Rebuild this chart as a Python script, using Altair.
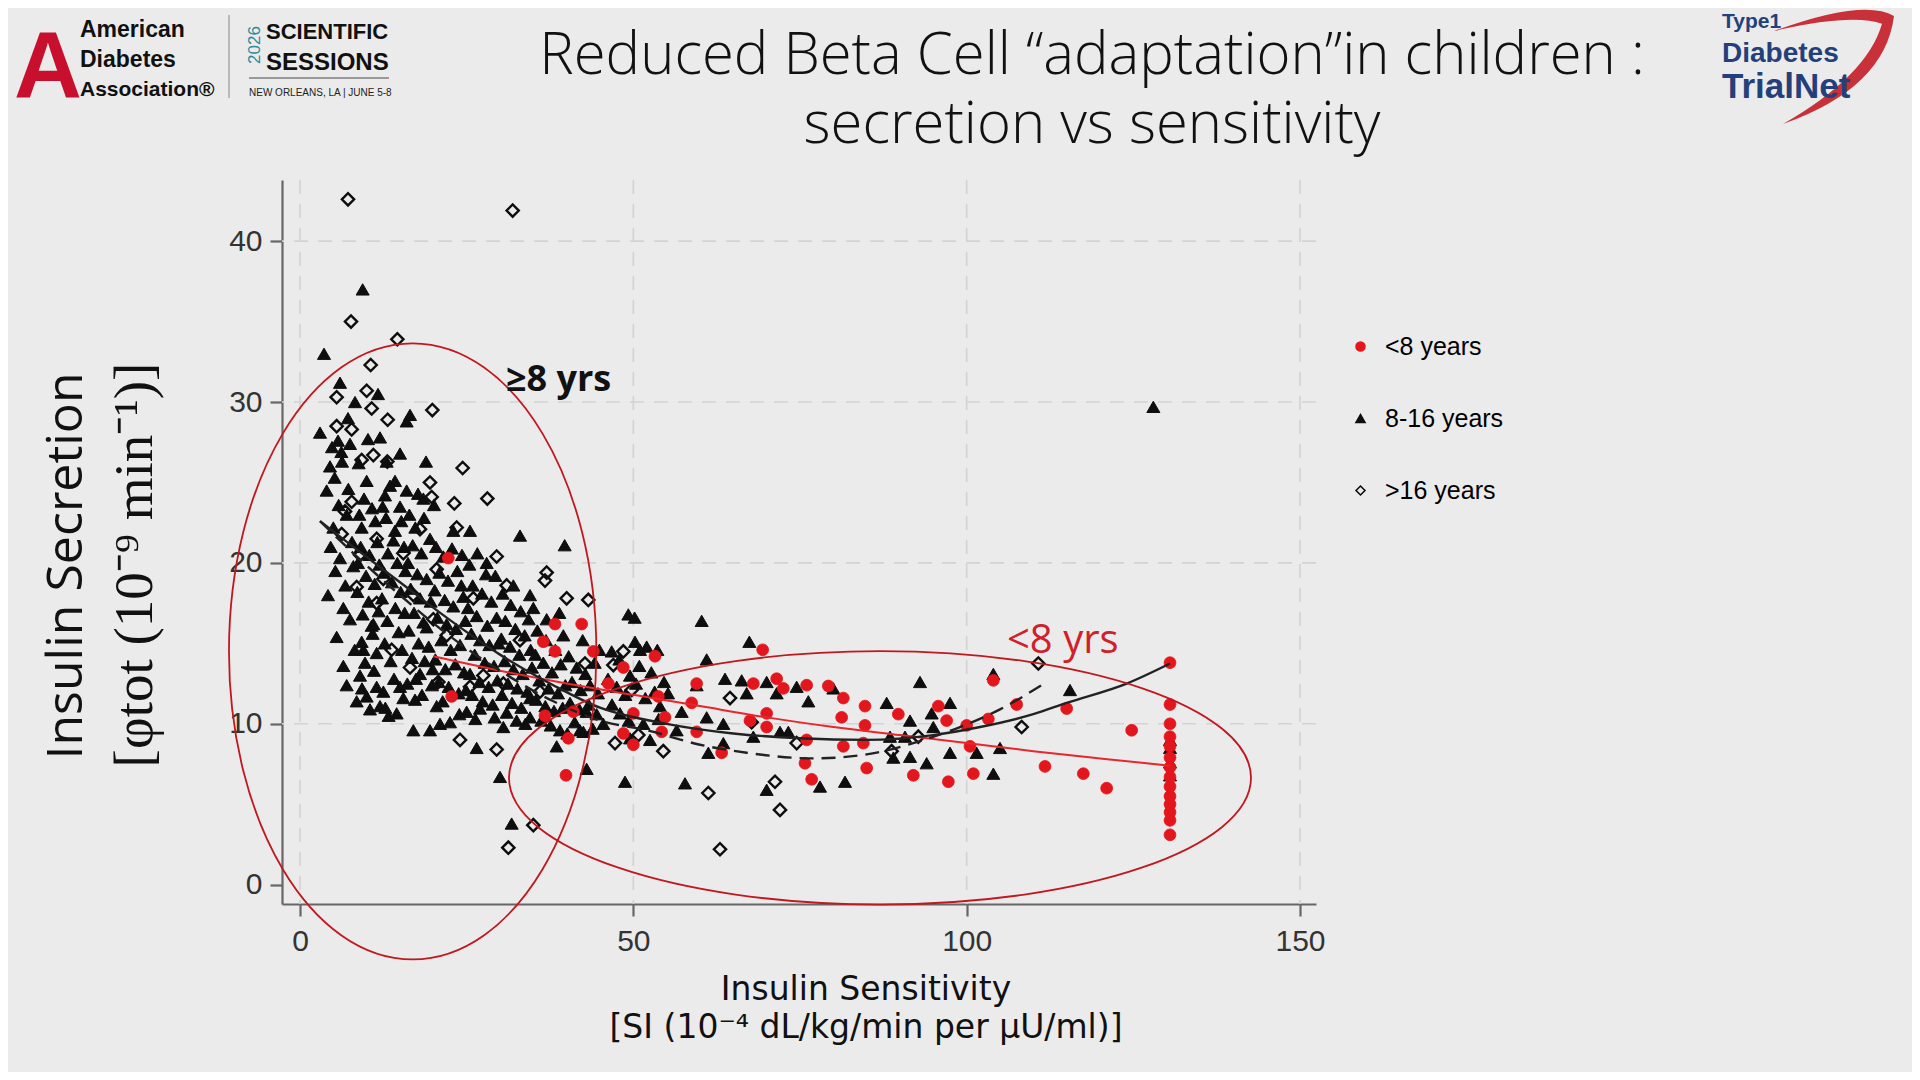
import altair as alt
import pandas as pd

# ---------------- data ----------------
groups = ["<8 years", "8-16 years", ">16 years"]

tri_pts = [  # 8-16 years
    (9.4,37.0),(3.6,33.0),(6.0,31.2),(11.7,30.5),(8.25,30.0),(7.2,29.0),(3.0,28.1),(16.5,29.2),(16.0,28.8),
    (5.7,27.6),(7.5,27.4),(10.2,27.7),(12.0,27.8),(15.0,26.8),(18.9,26.3),(14.25,25.1),(10.0,25.1),(7.25,24.6),
    (12.75,24.2),(16.0,24.5),(18.5,24.0),(15.0,23.5),(33.0,21.7),(39.7,21.1),(5.0,22.2),(9.25,22.2),(14.25,22.0),
    (23.0,22.0),(25.5,22.0),(6.5,17.2),(34.5,18.0),(49.25,16.8),(50.2,16.6),(60.25,16.4),(6.5,13.6),(9.5,14.6),
    (11.0,16.2),(19.0,16.0),(61.0,14.0),(10.75,16.1),(9.25,15.1),(9.75,13.8),(18.0,13.1),(10.0,11.7),(12.0,11.1),
    (14.5,10.65),(11.5,12.3),(15.0,12.3),(17.25,11.5),(17.0,9.6),(19.5,9.6),(21.0,10.0),(20.5,11.1),(25.0,10.75),
    (27.0,10.95),(26.5,8.5),(30.0,6.7),(31.75,3.8),(30.5,9.8),(32.5,10.2),(34.5,10.4),(38.5,8.6),(42.0,9.6),(43.0,7.2),
    (67.4,15.1),(50.25,15.1),(46.75,14.5),(51.0,14.6),(49.5,13.0),(63.75,12.8),(66.25,12.7),(59.5,12.4),(70.0,12.6),
    (74.5,12.3),(80.0,12.2),(93.0,12.6),(67.0,11.9),(71.5,11.9),(76.25,11.4),(88.0,11.3),(97.5,11.3),(94.75,10.65),
    (91.5,10.2),(54.0,11.1),(57.25,10.75),(61.0,10.4),(63.5,10.0),(56.5,9.6),(43.0,10.75),(48.0,10.65),(45.5,10.0),
    (42.5,9.5),(72.0,9.5),(73.25,9.5),(68.0,9.2),(49.5,9.1),(52.5,9.0),(88.5,9.2),(90.75,9.2),(95.0,9.8),(63.5,8.8),
    (61.25,8.2),(89.0,7.9),(91.5,7.95),(94.0,7.55),(97.5,8.2),(101.5,8.2),(48.75,6.4),(57.75,6.3),(70.0,5.9),
    (78.0,6.1),(81.75,6.4),(104.0,13.1),(115.5,12.1),(105.0,8.5),(104.0,6.9),(130.5,9.0),(130.5,8.5),(130.5,7.6),
    (130.5,6.8),(128.0,29.7),
    (4.5,26.0),(5.2,25.3),(4.0,24.5),(6.3,26.3),(5.8,23.6),(7.0,23.0),(4.6,21.0),(6.0,20.3),(7.8,21.3),(5.3,19.5),
    (6.8,18.6),(8.0,19.8),(4.2,18.0),(7.5,16.5),(5.5,15.4),(8.2,14.6),(7.0,12.4),(8.5,11.4),(6.2,26.9),(4.8,27.2),
    (8.8,26.2),(9.6,24.0),(10.8,23.4),(8.9,23.0),(11.3,22.6),(9.1,21.0),(10.4,20.5),(11.6,21.3),(8.7,20.0),(9.9,19.2),
    (11.2,18.7),(8.6,18.2),(10.3,17.6),(11.8,17.0),(9.4,16.8),(10.9,15.6),(11.5,14.4),(9.0,13.0),(11.1,13.3),
    (10.5,10.9),(9.3,12.2),(11.9,19.9),
    (12.4,23.5),(13.5,24.8),(12.9,22.8),(14.0,21.4),(15.2,22.6),(13.2,20.6),(14.6,20.0),(15.6,21.0),(12.6,19.4),
    (13.8,18.8),(15.1,18.2),(12.3,17.8),(14.3,17.2),(15.7,16.9),(13.1,16.4),(14.8,15.7),(12.7,15.0),(15.3,14.6),
    (13.6,13.9),(14.1,12.8),(12.5,12.0),(15.5,11.6),(13.3,10.5),(12.8,11.0),(15.8,19.5),(13.0,26.3),
    (16.4,23.0),(17.3,22.2),(18.6,22.8),(16.9,21.1),(18.2,20.6),(19.5,21.5),(16.2,20.0),(17.6,19.3),(19.0,19.0),
    (16.6,18.4),(18.0,17.8),(19.6,17.6),(17.1,16.9),(18.5,16.3),(16.3,15.8),(17.8,15.0),(19.3,14.8),(16.8,14.1),
    (18.7,13.9),(17.4,12.8),(19.8,12.4),(16.1,12.5),(18.3,11.8),(19.9,13.4),(17.7,24.3),
    (20.4,21.0),(21.5,20.4),(22.8,20.9),(24.3,20.5),(20.9,19.4),(22.2,18.9),(23.6,19.5),(20.2,18.3),(21.7,17.7),
    (23.0,17.3),(24.5,17.9),(20.6,16.6),(22.0,16.2),(23.4,15.9),(24.8,16.4),(21.2,15.2),(22.6,14.6),(24.0,14.9),
    (20.3,14.0),(21.8,13.4),(23.3,13.7),(24.6,13.2),(20.8,12.6),(22.3,12.3),(23.8,11.9),(24.9,12.1),(21.4,11.4),
    (23.9,10.6),(22.5,10.1),(20.1,23.6),(24.2,18.6),
    (25.4,19.9),(26.6,20.6),(28.0,20.0),(29.3,19.2),(25.9,18.6),(27.3,18.1),(28.7,17.6),(25.2,17.2),(26.5,16.7),
    (28.1,16.1),(29.5,16.6),(25.7,15.6),(27.0,15.2),(28.4,14.9),(29.8,15.0),(26.2,14.3),(27.7,13.8),(29.1,13.6),
    (25.5,13.1),(26.9,12.6),(28.3,12.3),(29.6,12.7),(25.8,11.8),(27.4,11.4),(28.9,11.2),(26.3,10.3),(29.2,10.4),
    (27.9,19.3),
    (30.4,18.1),(31.6,17.4),(33.1,17.0),(34.3,16.5),(30.8,16.4),(32.3,15.9),(33.7,15.5),(30.2,15.3),(31.5,14.8),
    (32.9,14.3),(34.6,14.6),(30.7,13.9),(32.0,13.4),(33.4,13.1),(34.8,13.5),(31.2,12.5),(32.6,12.2),(34.1,12.0),
    (30.3,11.8),(31.8,11.3),(33.2,11.0),(34.5,11.6),(31.0,10.7),(33.8,10.0),(32.0,18.6),(35.0,17.2),
    (35.6,15.8),(36.9,15.2),(38.3,14.6),(39.5,15.5),(35.3,14.3),(36.5,13.8),(37.8,13.2),(39.1,13.7),(35.9,12.7),
    (37.3,12.2),(38.7,11.9),(39.8,12.4),(35.4,11.5),(36.8,11.1),(38.1,10.8),(39.4,11.0),(36.2,10.2),(37.6,9.9),
    (39.0,9.6),(37.0,16.5),(38.9,16.9),
    (40.3,14.2),(41.5,13.5),(42.8,13.1),(44.2,13.8),(40.8,12.6),(42.1,12.1),(43.5,12.4),(44.7,11.9),(40.5,11.3),
    (41.9,10.9),(43.3,11.2),(44.5,10.6),(41.2,10.1),(43.9,9.7),(40.1,9.4),(44.9,14.6),(42.4,15.2),
    (46.2,12.8),(47.5,12.3),(48.8,11.8),(50.4,12.5),(51.8,11.6),(53.2,12.0),(46.8,11.2),(49.3,10.2),(51.5,10.0),
    (53.8,10.3),(52.7,13.2),(54.6,12.6),(47.9,14.0),(50.9,13.6),(55.2,11.9),(52.0,14.8),(53.6,14.6),
]

dia_pts = [  # >16 years
    (7.2,42.6),(31.9,41.9),(7.65,35.0),(14.6,33.9),(10.6,32.3),(10.0,30.7),(5.5,30.3),(10.75,29.6),(13.15,28.9),
    (19.85,29.5),(5.5,28.5),(7.75,28.3),(11.0,26.7),(9.25,26.4),(13.1,26.3),(24.4,25.9),(19.5,25.0),(28.1,24.0),
    (23.15,23.7),(19.75,24.1),(7.75,23.8),(6.75,23.2),(6.25,21.8),(11.5,21.5),(18.0,22.1),(23.5,22.2),(29.5,20.4),
    (37.0,19.4),(36.75,18.9),(31.0,18.6),(40.0,17.8),(43.25,17.7),(11.5,17.5),(13.75,14.6),(42.75,13.75),(24.0,9.0),
    (29.5,8.4),(35.0,3.7),(31.25,2.3),(20.75,12.6),(48.5,14.5),(47.0,13.65),(49.75,12.1),(64.5,11.6),(67.75,10.1),
    (47.25,8.8),(50.75,9.3),(54.5,8.3),(74.5,8.8),(92.75,9.2),(71.25,6.4),(61.25,5.7),(72.0,4.65),(63.0,2.2),
    (88.75,8.3),(110.75,13.75),(108.25,9.8),
    (15.5,20.6),(20.5,19.6),(26.0,17.8),(17.0,18.0),(22.0,15.5),(27.5,13.0),(33.0,15.2),(12.5,19.0),(8.5,18.5),
    (16.5,13.5),(25.5,12.3),(30.5,12.5),(36.0,12.0),(9.0,20.5),(20.0,16.5),
]

red_pts = [  # <8 years
    (22.25,20.3),(22.75,11.7),(38.25,16.2),(42.25,16.2),(44.0,14.5),(53.25,14.2),(36.5,15.1),(46.25,12.5),
    (48.5,13.5),(53.75,11.7),(58.75,11.3),(36.75,10.5),(50.0,10.65),(59.5,12.5),(40.25,9.1),(39.9,6.8),(38.25,14.5),
    (41.0,10.75),(69.4,14.6),(68.0,12.5),(71.5,12.8),(72.5,12.2),(76.0,12.4),(79.25,12.35),(81.5,11.6),(84.75,11.1),
    (89.75,10.6),(95.75,11.1),(97.0,10.2),(100.0,9.9),(54.75,10.4),(70.0,10.65),(81.25,10.4),(84.75,9.9),(48.5,9.4),
    (50.0,8.7),(54.25,9.5),(59.5,9.5),(67.5,10.2),(70.0,9.8),(76.0,9.0),(81.5,8.6),(84.5,8.8),(63.25,8.2),(75.75,7.55),
    (85.0,7.25),(76.75,6.55),(92.0,6.8),(97.25,6.4),(101.0,6.9),(100.5,8.6),(104.0,12.7),(107.5,11.2),(103.25,10.3),
    (115.0,10.95),(124.75,9.6),(111.75,7.35),(117.5,6.9),(121.0,6.0),
    (130.5,13.8),(130.5,11.2),(130.5,10.0),(130.5,9.2),(130.5,8.6),(130.5,7.9),(130.5,7.3),(130.5,6.7),(130.5,6.1),
    (130.5,5.5),(130.5,5.0),(130.5,4.5),(130.5,4.0),(130.5,3.1),
]

# fitted curves
fit_lt8_x = [20, 30, 40, 50, 60, 70, 80, 90, 100, 110, 120, 130.5]
fit_lt8_y = [14.2, 13.3, 12.5, 11.8, 11.1, 10.4, 9.8, 9.3, 8.8, 8.3, 7.85, 7.4]
fit_mid_x = [3, 8, 15, 22, 30, 38, 45, 55, 65, 75, 85, 95, 102, 110, 115, 124, 130.5]
fit_mid_y = [22.6, 21.0, 18.8, 16.6, 14.3, 12.4, 11.0, 10.0, 9.4, 9.1, 9.0, 9.3, 9.8, 10.6, 11.3, 12.5, 13.75]
fit_old_x = [3, 8, 15, 22, 30, 38, 45, 52, 60, 67, 77, 85, 92, 99, 105, 112]
fit_old_y = [22.6, 20.6, 18.0, 15.6, 13.3, 11.4, 10.2, 9.6, 8.7, 8.2, 7.85, 8.1, 8.8, 9.8, 10.9, 12.6]

# ellipse centres (data units)
ell_old_center = (16.9, 14.5)
ell_young_center = (87.0, 6.64)

x_ticks = [0, 50, 100, 150]
y_ticks = [0, 10, 20, 30, 40]
y_grid = [10, 20, 30, 40]

# ---------------- build ----------------
RED = "#e3161d"
BLK = "#0e0e0e"
ELL = "#c0181f"

xs = alt.Scale(domain=[-2.7, 152.4], nice=False, zero=False)
ys = alt.Scale(domain=[-1.2, 43.8], nice=False, zero=False)

AX_X = alt.Axis(values=x_ticks, title=None, grid=False, labelFontSize=30, labelFont="Liberation Sans",
                labelColor="#333", domainColor="#666", domainWidth=2.2, tickColor="#666", tickWidth=2.2,
                tickSize=12, labelPadding=10)
AX_Y = alt.Axis(values=y_ticks, title=None, grid=False, labelFontSize=30, labelFont="Liberation Sans",
                labelColor="#333", domainColor="#666", domainWidth=2.2, tickColor="#666", tickWidth=2.2,
                tickSize=12, labelPadding=8)

LEG = alt.Legend(title=None, orient="none", legendX=1066, legendY=154, labelFontSize=25,
                 labelFont="Liberation Sans", labelColor="black", symbolSize=80, rowPadding=46,
                 labelOffset=12, padding=0, symbolStrokeWidth=1.6)

SHAPE_SC = alt.Scale(domain=groups, range=["circle", "triangle-up", "diamond"])
FILL_SC = alt.Scale(domain=groups, range=[RED, BLK, "transparent"])
STROKE_SC = alt.Scale(domain=groups, range=[RED, BLK, BLK])


def group_layer(name, pts, size, sw):
    df = pd.DataFrame({"x": [p[0] for p in pts], "y": [p[1] for p in pts], "group": name})
    return alt.Chart(df).mark_point(filled=True, opacity=1, size=size, strokeWidth=sw).encode(
        x=alt.X("x:Q", scale=xs, axis=AX_X),
        y=alt.Y("y:Q", scale=ys, axis=AX_Y),
        shape=alt.Shape("group:N", scale=SHAPE_SC, legend=LEG),
        fill=alt.Fill("group:N", scale=FILL_SC, legend=LEG),
        stroke=alt.Stroke("group:N", scale=STROKE_SC, legend=LEG),
    )


tri_layer = group_layer("8-16 years", tri_pts, 170, 1.0)
dia_layer = group_layer(">16 years", dia_pts, 150, 2.4)
red_layer = group_layer("<8 years", red_pts, 140, 0.8)

vgrid = alt.Chart(pd.DataFrame({"x": x_ticks})).mark_rule(color="#d3d3d3", strokeWidth=1.6, strokeDash=[14, 10]).encode(
    x=alt.X("x:Q", scale=xs, axis=AX_X))
hgrid = alt.Chart(pd.DataFrame({"y": y_grid})).mark_rule(color="#d3d3d3", strokeWidth=1.6, strokeDash=[14, 10]).encode(
    y=alt.Y("y:Q", scale=ys, axis=AX_Y))


def fit_line(xv, yv, color, width, dash=None):
    kw = dict(color=color, strokeWidth=width)
    if dash:
        kw["strokeDash"] = dash
    return alt.Chart(pd.DataFrame({"x": xv, "y": yv})).mark_line(interpolate="monotone", **kw).encode(
        x=alt.X("x:Q", scale=xs, axis=AX_X), y=alt.Y("y:Q", scale=ys, axis=AX_Y))


line_red = fit_line(fit_lt8_x, fit_lt8_y, "#e8262b", 2.0)
line_mid = fit_line(fit_mid_x, fit_mid_y, "#222", 2.4)
line_old = fit_line(fit_old_x, fit_old_y, "#222", 2.4, [14, 8])

ELL1 = ("M 0.5964,0 C 0.5964,0.5523 0.3294,1 0,1 C -0.3294,1 -0.5964,0.5523 -0.5964,0 "
        "C -0.5964,-0.5523 -0.3294,-1 0,-1 C 0.3294,-1 0.5964,-0.5523 0.5964,0 Z")
ELL2 = ("M 1,0 C 1,0.1886 0.5523,0.3415 0,0.3415 C -0.5523,0.3415 -1,0.1886 -1,0 "
        "C -1,-0.1886 -0.5523,-0.3415 0,-0.3415 C 0.5523,-0.3415 1,-0.1886 1,0 Z")


def ellipse(center, path, size):
    return alt.Chart(pd.DataFrame({"x": [center[0]], "y": [center[1]]})).mark_point(
        shape=path, size=size, filled=False, stroke=ELL, strokeWidth=1.8, opacity=1).encode(
        x=alt.X("x:Q", scale=xs, axis=AX_X), y=alt.Y("y:Q", scale=ys, axis=AX_Y))


ell1 = ellipse(ell_old_center, ELL1, 379456)
ell2 = ellipse(ell_young_center, ELL2, 550564)


def txt(label, x, y, size, color="black", font="Open Sans", weight="normal", align="left",
        baseline="alphabetic", angle=0):
    return alt.Chart(pd.DataFrame({"label": [label]})).mark_text(
        align=align, baseline=baseline, fontSize=size, font=font, fontWeight=weight,
        color=color, angle=angle).encode(x=alt.value(x), y=alt.value(y), text="label:N")


texts = [
    # slide title
    txt("Reduced Beta Cell \u201cadaptation\u201din children :", 810, -106, 58, "#111", "Open Sans", 300, "center"),
    txt("secretion vs sensitivity", 810, -37, 58, "#111", "Open Sans", 300, "center"),
    # axis titles
    txt("Insulin Secretion", -215, 386, 50, "#111", "Open Sans", "normal", "center", "middle", 270),
    txt("[\u03c6tot (10\u207b\u2079 min\u207b\u00b9)]", -147, 385, 55, "#111", "Liberation Serif", "normal", "center", "middle", 270),
    txt("Insulin Sensitivity", 584, 820, 33, "#111", "DejaVu Sans", "normal", "center"),
    txt("[SI (10\u207b\u2074 dL/kg/min per \u03bcU/ml)]", 584, 858, 33, "#111", "DejaVu Sans", "normal", "center"),
    # annotations
    txt("\u22658 yrs", 224, 211, 36, "#111", "Open Sans", "bold"),
    txt("<8 yrs", 725, 473, 40, "#d0202a", "Open Sans", "normal"),
    # ADA logo
    txt("A", -234, -82, 94, "#c8102e", "Liberation Sans", "bold", "center"),
    txt("American", -202, -143, 23, "#111", "Liberation Sans", "bold"),
    txt("Diabetes", -202, -113, 23, "#111", "Liberation Sans", "bold"),
    txt("Association\u00ae", -202, -84, 21, "#111", "Liberation Sans", "bold"),
    txt("2026", -27, -135, 17, "#2b8a9b", "Liberation Sans", "normal", "center", "middle", 270),
    txt("SCIENTIFIC", -16, -141, 22, "#111", "Liberation Sans", "bold"),
    txt("SESSIONS", -16, -110, 24, "#111", "Liberation Sans", "bold"),
    txt("NEW ORLEANS, LA | JUNE 5-8", -33, -84, 10, "#222", "Liberation Sans", "normal"),
    # TrialNet logo
    txt("Type1", 1440, -152, 21, "#24407a", "Liberation Sans", "bold"),
    txt("Diabetes", 1440, -118, 28, "#24407a", "Liberation Sans", "bold"),
    txt("TrialNet", 1440, -82, 35, "#24407a", "Liberation Sans", "bold"),
]

divider = alt.Chart(pd.DataFrame({"v": [1]})).mark_rule(color="#999", strokeWidth=1.2).encode(
    x=alt.value(-53), y=alt.value(-165), y2=alt.value(-82))
underline = alt.Chart(pd.DataFrame({"v": [1]})).mark_rule(color="#999", strokeWidth=2).encode(
    x=alt.value(-33), x2=alt.value(107), y=alt.value(-102))
SWOOSH = ("M -1,-0.6 Q 0.5,-1.15 1,-0.85 Q 0.85,0.35 -0.85,0.95 "
          "Q 0.55,0.15 0.8,-0.72 Q 0.3,-0.9 -1,-0.6 Z")
swoosh = alt.Chart(pd.DataFrame({"v": [1]})).mark_point(
    shape=SWOOSH, size=14400, filled=True, fill="#c8303a", strokeWidth=0, opacity=1).encode(
    x=alt.value(1552), y=alt.value(-113))

chart = alt.layer(
    vgrid, hgrid, tri_layer, dia_layer, red_layer, line_red, line_mid, line_old, ell1, ell2,
    divider, underline, swoosh, *texts
).properties(
    width=1034, height=724,
    padding={"left": 274, "top": 172, "right": 596, "bottom": 168},
    autosize=alt.AutoSizeParams(type="none"),
    background="#ebebeb",
).configure_view(stroke=None)

chart.save("out.html", embed_options={"renderer": "svg", "actions": False})
